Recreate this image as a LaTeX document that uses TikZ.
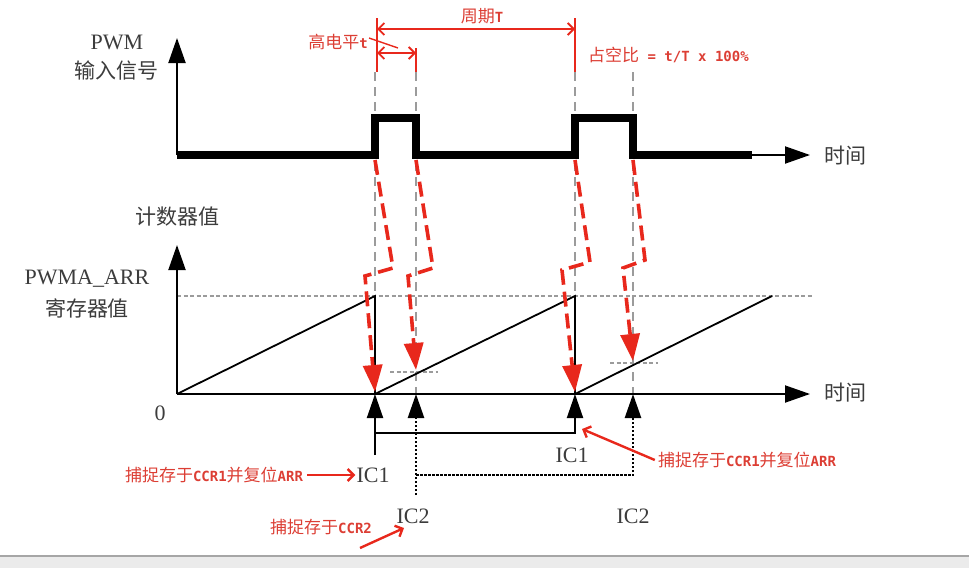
\documentclass[tikz,border=0pt]{standalone}
\usepackage{fontspec}
\setmainfont{Liberation Serif}
\newfontfamily\cjk{Noto Sans CJK SC}
\newfontfamily\pixmono{DejaVu Sans Mono}
\usetikzlibrary{arrows.meta,positioning,calc}
\definecolor{redA}{RGB}{232,40,28}
\definecolor{redT}{RGB}{220,62,52}
\definecolor{guideC}{RGB}{155,155,155}
\definecolor{labelC}{RGB}{60,60,60}
\tikzset{
    axis/.style   = {black, line width=2pt, -{Triangle[length=25pt,width=17pt]}},
    signal/.style = {black, line width=7.5pt},
    ramp/.style   = {black, line width=1.8pt},
    guide/.style  = {guideC, line width=2.4pt, dash pattern=on 9pt off 6pt},
    level/.style  = {guideC, line width=2pt, dash pattern=on 4pt off 2.5pt},
    trig/.style   = {redA, line width=3.6pt, dash pattern=on 15pt off 7pt,
            -{Triangle[length=27pt,width=19pt]}},
    capt/.style   = {black, line width=2pt, -{Triangle[length=24pt,width=16pt]}},
    captB/.style  = {capt, line width=2.5pt, dash pattern=on 2.5pt off 1.5pt},
    note/.style   = {redA, line width=2.4pt, -{Straight Barb[length=6pt,width=12pt]}},
    dim/.style    = {redA, line width=1.8pt,
            {Straight Barb[length=6pt,width=12pt]}-{Straight Barb[length=6pt,width=12pt]}},
    lbl/.style    = {text=labelC, inner sep=0pt, font=\cjk\fontsize{21}{24}\selectfont},
    lat/.style    = {text=labelC, inner sep=0pt, font=\fontsize{22}{24}\selectfont},
    rtxt/.style   = {text=redT, inner sep=0pt, font=\cjk\fontsize{17}{20}\selectfont},
}
\newcommand{\Mono}[1]{{\pixmono\bfseries\fontsize{14}{16}\selectfont #1}}
\newcommand{\Trig}[5]{% x0, x1, yjog, x2, ytip
    \draw[trig] (#1,160) -- (#2,#3) -- (#4,#3+8) -- (#1,#5);
}

\begin{document}
\begin{tikzpicture}[x=1pt, y=-1pt]
    \useasboundingbox (0,0) rectangle (969,568);
    % window edge at the bottom
    \fill[black!8] (0,556) rectangle (969,568);
    \draw[black!35, line width=1.5pt] (0,556) -- (969,556);

    % edge coordinates
    \coordinate (e1) at (375,394);
    \coordinate (e2) at (416,394);
    \coordinate (e3) at (575,394);
    \coordinate (e4) at (633,394);

    % guide lines through the edges
    \foreach \x in {375,416,575,633}
        \draw[guide] (\x,72) -- (\x,394);

    % PWM input
    \draw[axis] (177,155) -- (177,38);
    \draw[signal] (177,155) -- (375,155) -- (375,118) -- (416,118) -- (416,155)
        -- (575,155) -- (575,118) -- (633,118) -- (633,155) -- (752,155);
    \draw[axis] (750,155) -- (810,155);
    \node[lat] (pwm) at (117,42) {PWM};
    \node[lbl] (pwmcn) at (116,71) {输入信号};
    \node[lbl] (time1) at (845,156) {时间};

    % counter
    \draw[level] (177,296) -- (812,296);
    \draw[level] (390,372) -- (438,372);
    \draw[level] (610,363) -- (658,363);
    \draw[ramp] (177,394) -- (375,296) -- (375,394) -- (575,296) -- (575,394) -- (772,296);
    \draw[axis] (177,394) -- (177,245);
    \draw[axis] (177,394) -- (810,394);
    \node[lbl] (cnt) at (177,217) {计数器值};
    \node[lat] (arr) at (87,279) {PWMA\_ARR};
    \node[lbl] (arrcn) at (87,308) {寄存器值};
    \node[lat] (zero) at (160,413) {0};
    \node[lbl] (time2) at (845,393) {时间};

    % trigger arrows
    \Trig{375}{393}{268}{365}{392}
    \Trig{416}{433}{268}{408}{370}
    \Trig{575}{590}{262}{562}{392}
    \Trig{633}{645}{260}{623}{361}

    % captures
    \draw[capt] (375,455) -- (e1);
    \draw[capt] (375,433) -| (e3);
    \draw[captB] (416,495) -- (e2);
    \draw[captB] (416,475) -| (e4);
    \node[lat] (ic1) at (373,475) {IC1};
    \node[lat] (ic1r) at (572,455) {IC1};
    \node[lat] (ic2) at (413,516) {IC2};
    \node[lat] (ic2r) at (633,516) {IC2};

    % notes
    \node[rtxt] (capL) at (214,475) {捕捉存于\Mono{CCR1}并复位\Mono{ARR}};
    \node[rtxt] (capB) at (321,527) {捕捉存于\Mono{CCR2}};
    \node[rtxt] (capR) at (747,460) {捕捉存于\Mono{CCR1}并复位\Mono{ARR}};
    \coordinate (tailB) at (360,548);
    \coordinate (hitR) at (582,429);
    \draw[note] ([xshift=4pt]capL.east) -- ([xshift=-1pt]ic1.west);
    \draw[note] (tailB) -- (404,528);
    \draw[note] ([xshift=-3pt]capR.west) -- (hitR);

    % period and high time
    \coordinate (pA) at (377,29);
    \coordinate (pB) at (575,29);
    \coordinate (hA) at (377,53);
    \coordinate (hB) at (416,53);
    \draw[redA, line width=1.8pt] (377,18) -- (377,72);
    \draw[redA, line width=1.8pt] (575,18) -- (575,72);
    \draw[redA, line width=1.8pt] (416,48) -- (416,72);
    \draw[dim] (pA) -- (pB);
    \draw[dim] (hA) -- (hB);
    \draw[redA, line width=1.4pt] (369,38) -- (398,48);
    \node[rtxt] (per) at (482,16) {周期\Mono{T}};
    \node[rtxt] (hi) at (338,42) {高电平\Mono{t}};
    \node[rtxt, anchor=west] (duty) at (588,55) {占空比\Mono{ = t/T x 100\%}};
\end{tikzpicture}
\end{document}
